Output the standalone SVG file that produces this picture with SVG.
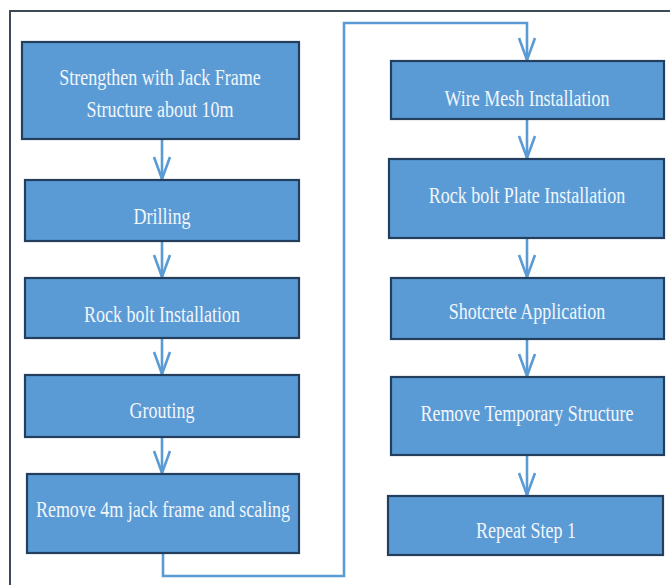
<svg xmlns="http://www.w3.org/2000/svg" width="670" height="585" viewBox="0 0 670 585">
<style>
.box{fill:#5B9BD5;stroke:#243F5E;stroke-width:2.2}
.lbl{font-family:"Liberation Serif","Times New Roman",serif;font-size:18px;fill:#F2F6FB;text-anchor:middle}
.con{fill:none;stroke:#5B9BD5;stroke-width:2.6}
.frame{fill:none;stroke:#3C4A57;stroke-width:2}
</style>
<defs>
<marker id="arr" markerUnits="userSpaceOnUse" viewBox="-24 -10 26 20" markerWidth="26" markerHeight="20" refX="0" refY="0" orient="auto" overflow="visible">
<path d="M-22,-8 L0,0 L-22,8" fill="none" stroke="#5B9BD5" stroke-width="2.6" stroke-linejoin="miter"/>
</marker>
</defs>
<rect width="670" height="585" fill="#FFFFFF"/>
<path class="frame" d="M10,585 V11 H670"/>
<g id="connectors">
<path class="con" d="M162,139 V179" marker-end="url(#arr)"/>
<path class="con" d="M162,241 V277" marker-end="url(#arr)"/>
<path class="con" d="M162,338 V374" marker-end="url(#arr)"/>
<path class="con" d="M162,437 V473" marker-end="url(#arr)"/>
<path class="con" d="M163,553 V576 H344 V23 H527 V60" marker-end="url(#arr)"/>
<path class="con" d="M527,119 V158" marker-end="url(#arr)"/>
<path class="con" d="M527,238 V277" marker-end="url(#arr)"/>
<path class="con" d="M527,339 V376" marker-end="url(#arr)"/>
<path class="con" d="M527,455 V495" marker-end="url(#arr)"/>
</g>
<g id="n1"><rect class="box" x="22" y="42" width="277" height="97"/>
<text class="lbl" transform="translate(160,85) scale(1,1.3)">Strengthen with Jack Frame</text>
<text class="lbl" transform="translate(160,117) scale(1,1.3)">Structure about 10m</text></g>
<g id="n2"><rect class="box" x="25" y="180" width="274" height="61"/>
<text class="lbl" transform="translate(162,224) scale(1,1.3)">Drilling</text></g>
<g id="n3"><rect class="box" x="25" y="278" width="274" height="60"/>
<text class="lbl" transform="translate(162,322) scale(1,1.3)">Rock bolt Installation</text></g>
<g id="n4"><rect class="box" x="25" y="375" width="274" height="62"/>
<text class="lbl" transform="translate(162,418) scale(1,1.3)">Grouting</text></g>
<g id="n5"><rect class="box" x="27" y="474" width="272" height="79"/>
<text class="lbl" transform="translate(163,517) scale(1,1.3)">Remove 4m jack frame and scaling</text></g>
<g id="n6"><rect class="box" x="391" y="61" width="273" height="58"/>
<text class="lbl" transform="translate(527,106) scale(1,1.3)">Wire Mesh Installation</text></g>
<g id="n7"><rect class="box" x="389" y="159" width="275" height="79"/>
<text class="lbl" transform="translate(527,203) scale(1,1.3)">Rock bolt Plate Installation</text></g>
<g id="n8"><rect class="box" x="391" y="278" width="273" height="61"/>
<text class="lbl" transform="translate(527,319) scale(1,1.3)">Shotcrete Application</text></g>
<g id="n9"><rect class="box" x="391" y="377" width="273" height="78"/>
<text class="lbl" transform="translate(527,421) scale(1,1.3)">Remove Temporary Structure</text></g>
<g id="n10"><rect class="box" x="388" y="496" width="275" height="59"/>
<text class="lbl" transform="translate(526,538) scale(1,1.3)">Repeat Step 1</text></g>
</svg>
